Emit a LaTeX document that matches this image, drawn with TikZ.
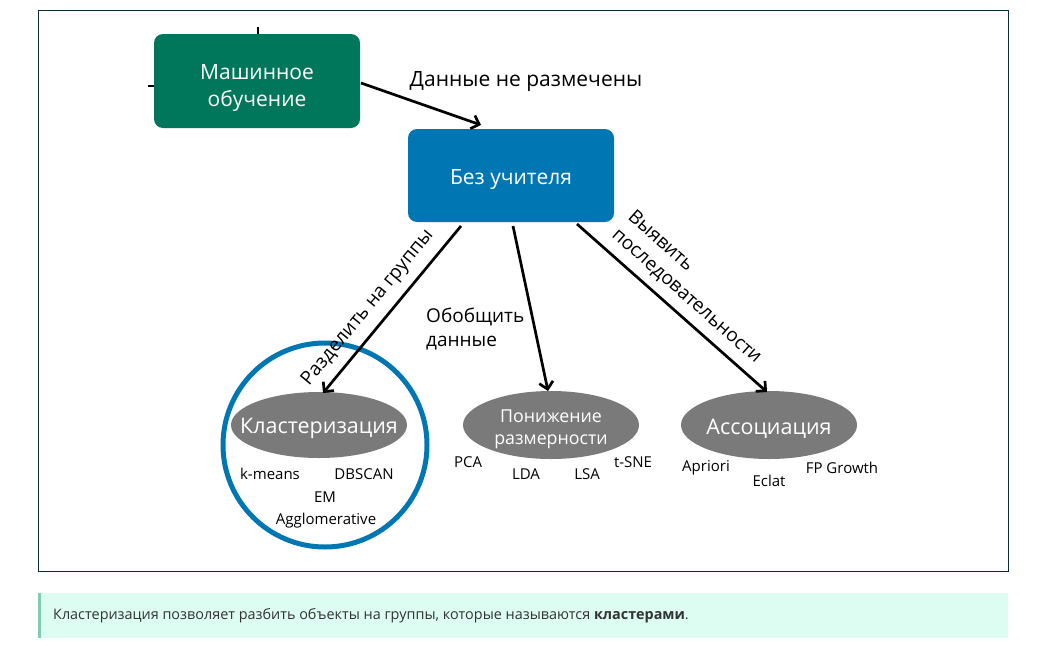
\documentclass[tikz,border=0pt]{standalone}
\usepackage{fontspec}
\setmainfont{Open Sans}
\usetikzlibrary{arrows.meta,shapes.geometric}
\definecolor{mlgreen}{RGB}{0,119,90}
\definecolor{mlblue}{RGB}{0,119,179}
\definecolor{ellgray}{RGB}{122,122,122}
\definecolor{framec}{RGB}{10,45,45}
\definecolor{notefill}{RGB}{221,253,243}
\definecolor{notebar}{RGB}{125,205,178}
\definecolor{notetext}{RGB}{51,51,51}
\tikzset{
  box/.style={rounded corners=9pt, inner sep=0pt},
  boxtext/.style={text=white, font=\fontsize{21}{27}\selectfont, align=center, inner sep=0pt},
  ell/.style={ellipse, fill=ellgray, inner sep=0pt},
  elltext/.style={text=white, align=center, inner sep=0pt},
  conn/.style={line width=2.7pt, -{Straight Barb[length=7pt,width=14pt,line width=2.7pt]}},
  lbl/.style={font=\fontsize{21}{25}\selectfont, inner sep=0pt},
  rlbl/.style={font=\fontsize{19}{24}\selectfont, inner sep=0pt},
  alg/.style={font=\fontsize{15}{17}\selectfont, inner sep=0pt},
}
\begin{document}
\begin{tikzpicture}[x=1pt,y=-1pt]
\useasboundingbox (0,0) rectangle (1040,648);
\fill[white] (0,0) rectangle (1040,648);
\draw[framec, line width=0.9pt] (38,10) rectangle (1008,571);
% note
\fill[notefill] (38,593) rectangle (1008,638);
\fill[notebar] (38,593) rectangle (41,638);
\node[anchor=west, inner sep=0pt, text=notetext, font=\fontsize{14.4}{17}\selectfont] (note) at (53,615.5) {Кластеризация позволяет разбить объекты на группы, которые называются \textbf{кластерами}.};
% boxes
\node[box, fill=mlgreen, minimum width=206pt, minimum height=94pt] (ml) at (257,81) {};
\node[boxtext] (mlt) at (257,88) {Машинное\\обучение};
\node[box, fill=mlblue, minimum width=206pt, minimum height=93pt] (un) at (511,175.5) {};
\node[boxtext] (unt) at (511,179.5) {Без учителя};
% stubs
\coordinate (stubtop) at (258,27);
\coordinate (stubleft) at (148,86);
\draw[line width=2.6pt] (ml.north -| stubtop) -- (stubtop);
\draw[line width=2.6pt] (ml.west |- stubleft) -- (stubleft);
% ellipses
\node[ell, minimum width=176pt, minimum height=66pt] (cl) at (319,425) {};
\node[elltext, font=\fontsize{21.5}{25}\selectfont] (clt) at (319,428) {Кластеризация};
\node[ell, minimum width=176pt, minimum height=68pt] (dr) at (551,425) {};
\node[elltext, font=\fontsize{17.8}{22}\selectfont] (drt) at (551,429) {Понижение\\размерности};
\node[ell, minimum width=176pt, minimum height=68pt] (as) at (769,425) {};
\node[elltext, font=\fontsize{21.5}{25}\selectfont] (ast) at (769,429) {Ассоциация};
\node[circle, draw=mlblue, line width=5pt, minimum size=204pt, inner sep=0pt] (circ) at (325,445) {};
% connectors
\coordinate (a1s) at (361,83);
\coordinate (a1e) at (481,125);
\draw[conn] (a1s) -- (a1e);
\node[lbl] (lab1) at (526,82) {Данные не размечены};
\coordinate (b1s) at (461,226);
\coordinate (b1e) at (323,393);
\draw[conn] (b1s) -- (b1e);
\coordinate (b2s) at (513,226);
\coordinate (b2e) at (548,391);
\draw[conn] (b2s) -- (b2e);
\coordinate (b3s) at (577,224);
\coordinate (b3e) at (767,392);
\draw[conn] (b3s) -- (b3e);
\node[rlbl, rotate=50.4] (lab2) at (368,308) {Разделить на группы};
\node[rlbl, align=left, anchor=north west] (lab3) at (426,308) {Обобщить\\данные};
\node[rlbl, align=left, rotate=-41.5, anchor=north west] (lab4) at (636,208) {Выявить\\последовательности};
% algorithms
\node[alg] (km) at (270,474) {k-means};
\node[alg] (db) at (364,474) {DBSCAN};
\node[alg] (em) at (325,497) {EM};
\node[alg] (ag) at (326,521) {Agglomerative};
\node[alg] (pca) at (468,462) {PCA};
\node[alg] (lda) at (526,474) {LDA};
\node[alg] (lsa) at (587,474) {LSA};
\node[alg] (tsne) at (633,462) {t-SNE};
\node[alg] (apr) at (706,468) {Apriori};
\node[alg] (ecl) at (769,481) {Eclat};
\node[alg] (fpg) at (842,468) {FP Growth};
\end{tikzpicture}
\end{document}
